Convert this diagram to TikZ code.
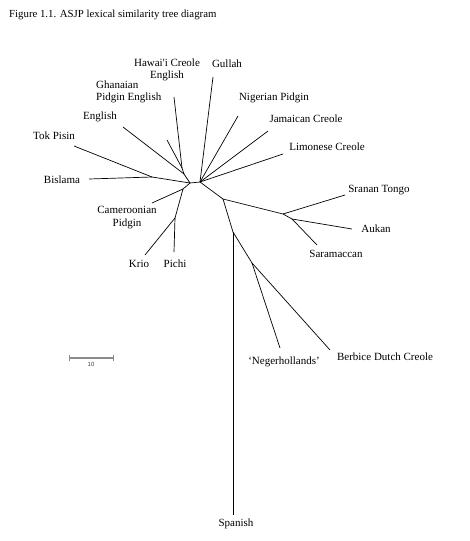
\documentclass[tikz,border=0pt]{standalone}
\usepackage{fontspec}
\setmainfont{Liberation Serif}
\setsansfont{Liberation Sans}
\begin{document}
\begin{tikzpicture}[x=1pt,y=-1pt,
  branch/.style={line width=0.7pt,black},
  lbl/.style={inner sep=0pt,font=\fontsize{11}{12.5}\selectfont,text=black},
  scalebar/.style={line width=1.1pt,black!45}]
\useasboundingbox[fill=white] (0,0) rectangle (470,541);
% title
\node[lbl,anchor=west,font=\fontsize{10.8}{12}\selectfont] (title) at (9,15) {Figure 1.1. ASJP lexical similarity tree diagram};
% junctions
\coordinate (L) at (190,183);
\coordinate (R) at (200,182);
\coordinate (A) at (152,177);
\coordinate (B) at (184,174);
\coordinate (C) at (182,168);
\coordinate (F) at (183,189);
\coordinate (M) at (175,218);
\coordinate (G) at (223,199);
\coordinate (H) at (283,214);
\coordinate (I) at (292,219);
\coordinate (J) at (233,232);
\coordinate (K) at (252,263);
% tips
\coordinate (tTok) at (74,146);
\coordinate (tBis) at (89,179);
\coordinate (tEng) at (123,127);
\coordinate (tHaw) at (174,97);
\coordinate (tGha) at (167,140);
\coordinate (tCam) at (152,203);
\coordinate (tKri) at (145,255);
\coordinate (tPic) at (174,252);
\coordinate (tGul) at (213,77);
\coordinate (tNig) at (238,116);
\coordinate (tJam) at (268,131);
\coordinate (tLim) at (283,154);
\coordinate (tSra) at (345,195);
\coordinate (tAuk) at (352,229);
\coordinate (tSar) at (317,245);
\coordinate (tSpa) at (233,515);
\coordinate (tNeg) at (280,348);
\coordinate (tBer) at (330,350);
% branches
\draw[branch] (L) -- (R);
\draw[branch] (L) -- (A);
\draw[branch] (A) -- (tTok);
\draw[branch] (A) -- (tBis);
\draw[branch] (L) -- (B);
\draw[branch] (B) -- (tEng);
\draw[branch] (B) -- (C);
\draw[branch] (C) -- (tHaw);
\draw[branch] (C) -- (tGha);
\draw[branch] (L) -- (F);
\draw[branch] (F) -- (tCam);
\draw[branch] (F) -- (M);
\draw[branch] (M) -- (tKri);
\draw[branch] (M) -- (tPic);
\draw[branch] (R) -- (tGul);
\draw[branch] (R) -- (tNig);
\draw[branch] (R) -- (tJam);
\draw[branch] (R) -- (tLim);
\draw[branch] (R) -- (G);
\draw[branch] (G) -- (H);
\draw[branch] (H) -- (tSra);
\draw[branch] (H) -- (I);
\draw[branch] (I) -- (tAuk);
\draw[branch] (I) -- (tSar);
\draw[branch] (G) -- (J);
\draw[branch] (J) -- (tSpa);
\draw[branch] (J) -- (K);
\draw[branch] (K) -- (tNeg);
\draw[branch] (K) -- (tBer);
% labels
\node[lbl,align=center] (nHaw) at (167,70) {Hawai\textquotesingle i Creole\\English};
\node[lbl] (nGul) at (227,64) {Gullah};
\node[lbl,align=left,anchor=west] (nGha) at (96,92) {Ghanaian\\Pidgin English};
\node[lbl] (nNig) at (274,98) {Nigerian Pidgin};
\node[lbl] (nJam) at (306,119) {Jamaican Creole};
\node[lbl] (nEng) at (100,117) {English};
\node[lbl] (nTok) at (54,136) {Tok Pisin};
\node[lbl] (nLim) at (327,147) {Limonese Creole};
\node[lbl] (nBis) at (62,180) {Bislama};
\node[lbl] (nSra) at (379,190) {Sranan Tongo};
\node[lbl] (nAuk) at (376,229) {Aukan};
\node[lbl] (nSar) at (336,254) {Saramaccan};
\node[lbl,align=center] (nCam) at (127,217.5) {Cameroonian\\Pidgin};
\node[lbl] (nKri) at (139,264) {Krio};
\node[lbl] (nPic) at (175,264) {Pichi};
\node[lbl] (nNeg) at (284,362) {‘Negerhollands’};
\node[lbl] (nBer) at (385,357) {Berbice Dutch Creole};
\node[lbl] (nSpa) at (236,524) {Spanish};
% scale bar
\coordinate (s1) at (69,358);
\coordinate (s2) at (113,358);
\draw[scalebar] (s1) -- (s2);
\draw[scalebar,line width=0.9pt] ([yshift=-3]s1) -- ([yshift=3]s1);
\draw[scalebar,line width=0.9pt] ([yshift=-3]s2) -- ([yshift=3]s2);
\node[inner sep=0pt,font=\sffamily\fontsize{6}{7}\selectfont,text=black!75] (sl) at (91,364.5) {10};
\end{tikzpicture}
\end{document}
